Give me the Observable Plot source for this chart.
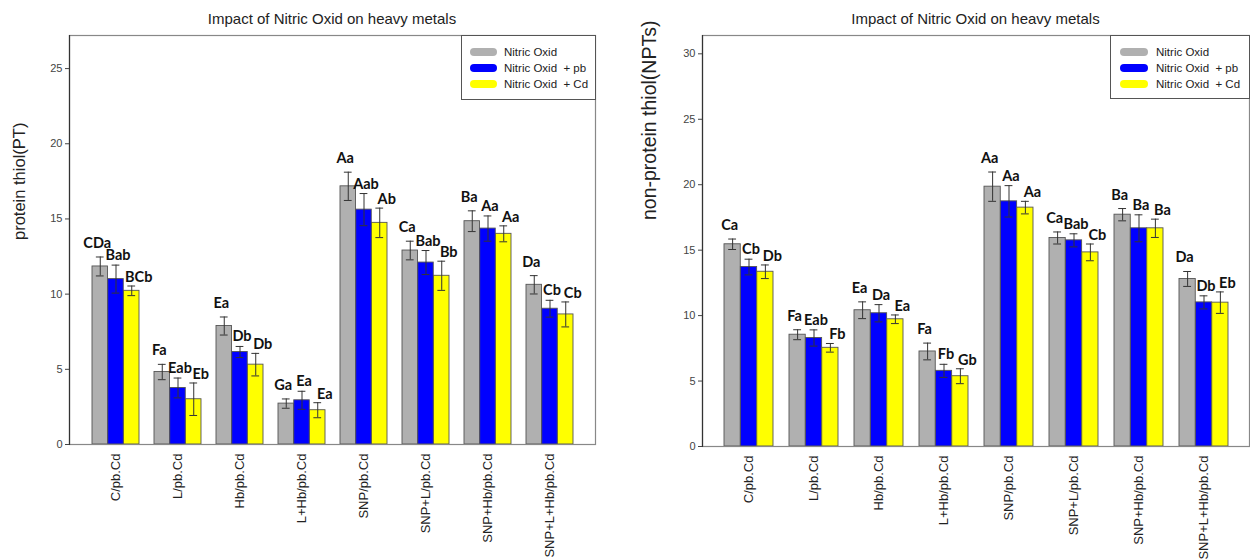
<!DOCTYPE html>
<html>
<head>
<meta charset="utf-8">
<script src="https://cdn.jsdelivr.net/npm/d3@7"></script>
<script src="https://cdn.jsdelivr.net/npm/@observablehq/plot@0.6"></script>
<style>
  html, body { margin: 0; padding: 0; background: #fff; }
  #root { position: relative; width: 1250px; height: 559px; overflow: hidden; font-family: "Liberation Sans", Arial, sans-serif; }
  .chart { position: absolute; top: 0; }
  .title { position: absolute; top: 10px; font-size: 15px; color: #222; white-space: nowrap; transform: translateX(-50%); }
  .legend { position: absolute; background: #fff; border: 1px solid #555; box-sizing: border-box; font-size: 11.5px; color: #222; }
  .legend .row { position: absolute; height: 16px; display: flex; align-items: center; white-space: pre; }
  .legend .sw { display: inline-block; width: 27px; height: 8px; border-radius: 4px; margin-right: 8px; }
</style>
</head>
<body>
<div id="root"></div>
<script>
// ---------- data ----------
const categories = ["C/pb.Cd", "L/pb.Cd", "Hb/pb.Cd", "L+Hb/pb.Cd", "SNP/pb.Cd", "SNP+L/pb.Cd", "SNP+Hb/pb.Cd", "SNP+L+Hb/pb.Cd"];
const series = ["Nitric Oxid", "Nitric Oxid  + pb", "Nitric Oxid  + Cd"];
const colors = ["#b0b0b0", "#0000ff", "#ffff00"];
const chartTitle = "Impact of Nitric Oxid on heavy metals";

// protein thiol (PT)
const ptNO     = [11.84, 4.82, 7.88, 2.72, 17.17, 12.90, 14.85, 10.62];
const ptNOErr  = [0.63, 0.51, 0.60, 0.31, 0.94, 0.62, 0.69, 0.61];
const ptPb     = [11.00, 3.76, 6.15, 2.94, 15.62, 12.10, 14.36, 9.03];
const ptPbErr  = [0.93, 0.66, 0.37, 0.60, 1.07, 0.80, 0.84, 0.56];
const ptCd     = [10.22, 3.01, 5.31, 2.28, 14.74, 11.22, 14.01, 8.65];
const ptCdErr  = [0.32, 1.08, 0.75, 0.50, 0.98, 0.97, 0.53, 0.83];
const ptNOLbl  = ["CDa", "Fa", "Ea", "Ga", "Aa", "Ca", "Ba", "Da"];
const ptPbLbl  = ["Bab", "Eab", "Db", "Ea", "Aab", "Bab", "Aa", "Cb"];
const ptCdLbl  = ["BCb", "Eb", "Db", "Ea", "Ab", "Bb", "Aa", "Cb"];

// non-protein thiol (NPTs)
const npNO     = [15.45, 8.54, 10.41, 7.26, 19.85, 15.93, 17.71, 12.80];
const npNOErr  = [0.40, 0.38, 0.64, 0.64, 1.12, 0.46, 0.47, 0.57];
const npPb     = [13.71, 8.29, 10.18, 5.78, 18.73, 15.75, 16.67, 11.01];
const npPbErr  = [0.60, 0.62, 0.66, 0.50, 1.20, 0.50, 1.03, 0.50];
const npCd     = [13.35, 7.54, 9.72, 5.37, 18.25, 14.83, 16.67, 10.99];
const npCdErr  = [0.52, 0.33, 0.33, 0.57, 0.48, 0.64, 0.70, 0.82];
const npNOLbl  = ["Ca", "Fa", "Ea", "Fa", "Aa", "Ca", "Ba", "Da"];
const npPbLbl  = ["Cb", "Eab", "Da", "Fb", "Aa", "Bab", "Ba", "Db"];
const npCdLbl  = ["Db", "Fb", "Ea", "Gb", "Aa", "Cb", "Ba", "Eb"];

const yTicksPT = [0, 5, 10, 15, 20, 25];
const yTicksNP = [0, 5, 10, 15, 20, 25, 30];

// ---------- chart builder ----------
function makeChart(cfg) {
  const {values, errs, labels, yMax, yTicks, yLabel, width, height, ml, mr, mt, mb, labelDx, labelDy, labelSize} = cfg;
  const pi = 0.25, po = 0.3;
  const inner = width - ml - mr;
  const step = inner / (categories.length - pi + 2 * po);
  const third = step * (1 - pi) / 3;
  const capW = 8;
  const shift = [-3, 2, 7];
  const lift = [-9, -5, -4];
  const marks = [];
  series.forEach((s, i) => {
    const d = categories.map((c, j) => ({cat: c, value: values[i][j], err: errs[i][j], label: labels[i][j]}));
    marks.push(Plot.barY(d, {x: "cat", y: "value", fill: colors[i], stroke: "#555", strokeWidth: 0.9,
      insetLeft: i * third, insetRight: (2 - i) * third}));
    marks.push(Plot.ruleX(d, {x: "cat", y1: r => r.value - r.err, y2: r => r.value + r.err,
      dx: (i - 1) * third, stroke: "#333", strokeWidth: 1}));
    const capInL = i * third + (third - capW) / 2, capInR = (2 - i) * third + (third - capW) / 2;
    marks.push(Plot.tickY(d, {x: "cat", y: r => r.value + r.err, insetLeft: capInL, insetRight: capInR, stroke: "#333", strokeWidth: 1}));
    marks.push(Plot.tickY(d, {x: "cat", y: r => r.value - r.err, insetLeft: capInL, insetRight: capInR, stroke: "#333", strokeWidth: 1}));
    marks.push(Plot.text(d, {x: "cat", y: r => r.value + r.err, text: "label", dx: (i - 1) * third + shift[i], dy: lift[i],
      lineAnchor: "bottom", fontSize: 14.5, fontWeight: "bold", fontFamily: "Lato, 'Open Sans', sans-serif", fill: "#111"}));
  });
  marks.push(Plot.frame({stroke: "#888", strokeWidth: 1.2}));
  marks.push(Plot.frame({anchor: "left", stroke: "#333", strokeWidth: 1.2}));
  marks.push(Plot.axisY({ticks: yTicks, tickSize: 4, tickPadding: 3, fontSize: 11, color: "#444", label: null, tickFormat: d3.format("d")}));
  marks.push(Plot.axisX({tickRotate: -90, tickSize: 0, tickPadding: 9, fontSize: 13, color: "#222", label: null}));
  marks.push(Plot.text([yLabel], {frameAnchor: "left", rotate: -90, dx: labelDx, dy: labelDy, fontSize: labelSize, fill: "#222",
    fontFamily: "'Liberation Sans', Arial, sans-serif"}));
  return Plot.plot({
    width, height,
    marginLeft: ml, marginRight: mr, marginTop: mt, marginBottom: mb,
    style: {fontFamily: "'Liberation Sans', Arial, sans-serif", background: "transparent", overflow: "visible"},
    x: {type: "band", domain: categories, paddingInner: pi, paddingOuter: po},
    y: {domain: [0, yMax]},
    marks
  });
}

function legend(left, top, w, h, swLeft, txtLeft, swW) {
  const box = document.createElement("div");
  box.className = "legend";
  Object.assign(box.style, {left: left + "px", top: top + "px", width: w + "px", height: h + "px"});
  series.forEach((s, i) => {
    const row = document.createElement("div");
    row.className = "row";
    row.style.left = swLeft + "px";
    row.style.top = (7.5 + i * 16) + "px";
    const sw = document.createElement("span");
    sw.className = "sw";
    sw.style.background = colors[i];
    sw.style.width = swW + "px";
    sw.style.marginRight = (txtLeft - swLeft - swW) + "px";
    const t = document.createElement("span");
    t.textContent = s;
    row.appendChild(sw); row.appendChild(t);
    box.appendChild(row);
  });
  return box;
}

const root = document.getElementById("root");

const left = makeChart({
  values: [ptNO, ptPb, ptCd], errs: [ptNOErr, ptPbErr, ptCdErr], labels: [ptNOLbl, ptPbLbl, ptCdLbl],
  yMax: 27.2, yTicks: yTicksPT, yLabel: "protein thiol(PT)",
  width: 620, height: 559, ml: 69, mr: 25, mt: 35, mb: 115, labelDx: -50, labelDy: 0, labelSize: 16.5
});
const leftWrap = document.createElement("div");
leftWrap.className = "chart"; leftWrap.style.left = "0px";
leftWrap.appendChild(left);
root.appendChild(leftWrap);

const right = makeChart({
  values: [npNO, npPb, npCd], errs: [npNOErr, npPbErr, npCdErr], labels: [npNOLbl, npPbLbl, npCdLbl],
  yMax: 31.4, yTicks: yTicksNP, yLabel: "non-protein thiol(NPTs)",
  width: 630, height: 559, ml: 82, mr: 1, mt: 35, mb: 113, labelDx: -53, labelDy: -21, labelSize: 19.5
});
const rightWrap = document.createElement("div");
rightWrap.className = "chart"; rightWrap.style.left = "620px";
rightWrap.appendChild(right);
root.appendChild(rightWrap);

[[332, chartTitle], [975.5, chartTitle]].forEach(([cx, txt]) => {
  const t = document.createElement("div");
  t.className = "title";
  t.style.left = cx + "px";
  t.textContent = txt;
  root.appendChild(t);
});

root.appendChild(legend(461, 35, 135, 65, 8, 42, 27));
root.appendChild(legend(1110, 35, 140, 64, 9, 45, 28));
</script>
</body>
</html>
